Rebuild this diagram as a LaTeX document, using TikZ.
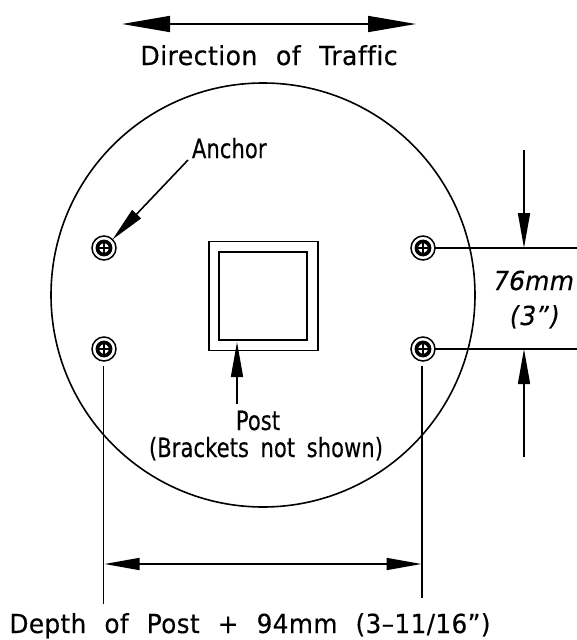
\documentclass[tikz,border=0pt]{standalone}
\usepackage{fontspec}
\setmainfont{DejaVu Sans}
\usetikzlibrary{arrows.meta}
\newfontfamily\dwg[LetterSpace=1.5,WordSpace=2.2,FakeBold=0.35,Ligatures=NoCommon]{DejaVu Sans}
\newfontfamily\dwgs[LetterSpace=0.5,WordSpace=1.7,FakeBold=0.35,Ligatures=NoCommon]{DejaVu Sans}
\newfontfamily\dwgi[LetterSpace=1,FakeSlant=0.2,FakeBold=0.25]{DejaVu Sans}
\tikzset{
 ln/.style={line width=1.6pt,black},
 dim/.style={ln,{Triangle[length=35pt,width=12pt]}-{Triangle[length=35pt,width=12pt]}},
 dimend/.style={ln,-{Triangle[length=35pt,width=12pt]}},
 big/.style={ln,{Triangle[length=48pt,width=16pt]}-{Triangle[length=48pt,width=16pt]}},
 lbl/.style={inner sep=0pt,outer sep=0pt,font=\dwg\fontsize{25}{28}\selectfont,text=black,yscale=1.05,transform shape},
 lblsm/.style={lbl,font=\dwgs\fontsize{21}{28}\selectfont,yscale=1.2},
 lbli/.style={lbl,font=\dwgi\fontsize{25}{28}\selectfont},
 bolt/.style={circle,minimum size=24pt,inner sep=0pt,outer sep=0pt,draw=black,line width=1.5pt},
}
\newcommand{\boltin}[1]{%
 \draw[black,line width=3.6pt] (#1.center) circle (6.6pt);
 \draw[black,line width=1.3pt] ([xshift=-6pt]#1.center) -- ([xshift=6pt]#1.center) ([yshift=-6pt]#1.center) -- ([yshift=6pt]#1.center);
}
\begin{document}
\begin{tikzpicture}[x=1pt,y=-1pt]
\useasboundingbox (0,0) rectangle (577,640);
\fill[white] (0,0) rectangle (577,640);
% disc
\draw[ln] (263,295) circle (212pt);
% post
\node[draw=black,line width=1.7pt,minimum width=109pt,minimum height=109pt,inner sep=0pt,outer sep=0pt] (postout) at (263.5,296) {};
\node[draw=black,line width=1.5pt,minimum width=88pt,minimum height=88pt,inner sep=0pt,outer sep=0pt] (postin) at (263,296) {};
% bolts
\node[bolt] (a1) at (104,248) {}; \boltin{a1}
\node[bolt] (a2) at (104,349) {}; \boltin{a2}
\node[bolt] (a3) at (423,248) {}; \boltin{a3}
\node[bolt] (a4) at (423,349) {}; \boltin{a4}
% top arrow
\coordinate (tl) at (122,24); \coordinate (tr) at (416,24);
\draw[big] (tl) -- (tr);
\node[lbl,anchor=base,xscale=1.01] (trafficlbl) at (269,65) {Direction of Traffic};
% anchor leader
\coordinate (anc) at (188,160);
\draw[dimend] (anc) -- (a1.45);
\node[lblsm,anchor=base west] (anchorlbl) at (192,158) {Anchor};
% post leader
\coordinate (pb) at (237,404); \coordinate (pt) at (237,342);
\draw[dimend] (pb) -- (pt);
\node[lblsm,anchor=base] (postlbl) at (258,430) {Post};
\node[lblsm,anchor=base] (brlbl) at (266,457) {(Brackets not shown)};
% right dimension
\coordinate (e1) at (577,248); \coordinate (e2) at (577,349);
\draw[ln] (a3) ++(12,0) -- (e1);
\draw[ln] (a4) ++(12,0) -- (e2);
\coordinate (r1) at (524,150); \coordinate (r1t) at (524,248);
\coordinate (r2) at (524,457); \coordinate (r2t) at (524,349);
\draw[dimend] (r1) -- (r1t);
\draw[dimend] (r2) -- (r2t);
\node[lbli,anchor=base] (dl1) at (532,290) {76mm};
\node[lbli,anchor=base] (dl2) at (533,325) {(3”)};
% bottom dimension
\coordinate (b1) at (103.5,604); \coordinate (b2) at (422,598);
\draw[ln] (a2) ++(-0.5,17) -- (b1);
\draw[ln] (a4) ++(-1,17) -- (b2);
\coordinate (bl) at (104.5,564); \coordinate (br) at (421.5,564);
\draw[dim] (bl) -- (br);
\node[lbl,anchor=base,xscale=0.99] (depthlbl) at (250,633) {Depth of Post + 94mm (3–11/16”)};
\end{tikzpicture}
\end{document}
